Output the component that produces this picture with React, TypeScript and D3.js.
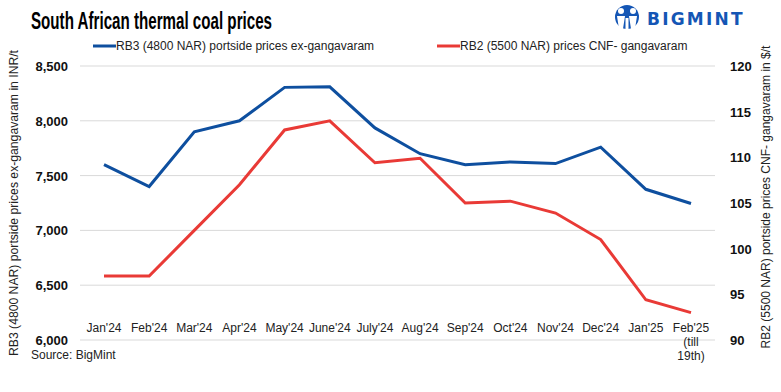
import React from "react";
import * as d3 from "d3";

const months = ["Jan'24", "Feb'24", "Mar'24", "Apr'24", "May'24", "June'24", "July'24", "Aug'24", "Sep'24", "Oct'24", "Nov'24", "Dec'24", "Jan'25", "Feb'25"];
const rb3Inr = [7600, 7400, 7900, 8000, 8305, 8310, 7935, 7700, 7600, 7625, 7610, 7760, 7375, 7245];
const rb2Usd = [97, 97, 102, 107, 113, 114, 109.4, 109.9, 105, 105.2, 103.9, 101, 94.4, 93];
const leftTicks = [6000, 6500, 7000, 7500, 8000, 8500];
const rightTicks = [90, 95, 100, 105, 110, 115, 120];

const W = 781, H = 392;
const BLUE = "#0e4f9f";
const RED = "#e93a36";
const FONT = "'Liberation Sans', Arial, sans-serif";

export default function App() {
  const x = d3.scalePoint<string>().domain(months).range([104, 691]);
  const yL = d3.scaleLinear().domain([6000, 8500]).range([340, 66]);
  const yR = d3.scaleLinear().domain([90, 120]).range([340, 66]);
  const lineL = d3.line<number>().x((_, i) => x(months[i])!).y(d => yL(d));
  const lineR = d3.line<number>().x((_, i) => x(months[i])!).y(d => yR(d));
  const fmt = d3.format(",");

  return (
    <svg width={W} height={H} style={{ position: "absolute", left: 0, top: 0, background: "#fff" }} fontFamily={FONT}>
      <rect width={W} height={H} fill="#fff" />
      <text x={31} y={29} fontSize={23} fontWeight="bold" textLength={241} lengthAdjust="spacingAndGlyphs" fill="#000">South African thermal coal prices</text>
      {/* logo */}
      <g>
        <circle cx={627} cy={17} r={12} fill="#1456b5" />
        <circle cx={621} cy={11} r={3} fill="#fff" />
        <circle cx={633} cy={11} r={3} fill="#fff" />
        <path d="M617 16 L619 29 L623 29 L625 16 Z" fill="#fff" />
        <path d="M629 16 L631 29 L635 29 L637 16 Z" fill="#fff" />
        <rect x={625.5} y={18} width={3} height={11} fill="#fff" />
        <text x={647} y={25} fontSize={17} fontWeight="bold" fill="#1456b5" letterSpacing={2.2} fontFamily="'DejaVu Sans', sans-serif">BIGMINT</text>
      </g>
      {/* legend */}
      <line x1={93} x2={116} y1={46} y2={46} stroke={BLUE} strokeWidth={3} />
      <text x={116} y={50} fontSize={12} fill="#222">RB3 (4800 NAR) portside prices ex-gangavaram</text>
      <line x1={437} x2={460} y1={46} y2={46} stroke={RED} strokeWidth={3} />
      <text x={460} y={50} fontSize={12} fill="#222">RB2 (5500 NAR) prices CNF- gangavaram</text>
      {/* grid */}
      {leftTicks.map(t => (
        <line key={t} x1={80} x2={715} y1={yL(t)} y2={yL(t)} stroke="#d9d9d9" strokeWidth={1} />
      ))}
      {leftTicks.map(t => (
        <text key={"l" + t} x={68} y={yL(t) + 5} fontSize={13} fontWeight="bold" textAnchor="end" fill="#111">{fmt(t)}</text>
      ))}
      {rightTicks.map(t => (
        <text key={"r" + t} x={730} y={yR(t) + 5} fontSize={13} fontWeight="bold" fill="#111">{t}</text>
      ))}
      {months.map((m, i) => (
        <text key={m} x={x(m)!} y={332} fontSize={12} textAnchor="middle" fill="#222">{m}</text>
      ))}
      <text x={x("Feb'25")!} y={346} fontSize={12} textAnchor="middle" fill="#222">(till</text>
      <text x={x("Feb'25")!} y={360} fontSize={12} textAnchor="middle" fill="#222">19th)</text>
      <text x={31} y={359} fontSize={12} fill="#222">Source: BigMint</text>
      {/* axis titles */}
      <text transform="translate(18,203) rotate(-90)" fontSize={12} textAnchor="middle" textLength={306} lengthAdjust="spacingAndGlyphs" fill="#222">RB3 (4800 NAR) portside prices ex-gangavaram in INR/t</text>
      <text transform="translate(770,197) rotate(-90)" fontSize={12} textAnchor="middle" fill="#222">RB2 (5500 NAR) portside prices CNF- gangavaram in $/t</text>
      {/* lines */}
      <path d={lineL(rb3Inr)!} fill="none" stroke={BLUE} strokeWidth={3} />
      <path d={lineR(rb2Usd)!} fill="none" stroke={RED} strokeWidth={3} />
    </svg>
  );
}
